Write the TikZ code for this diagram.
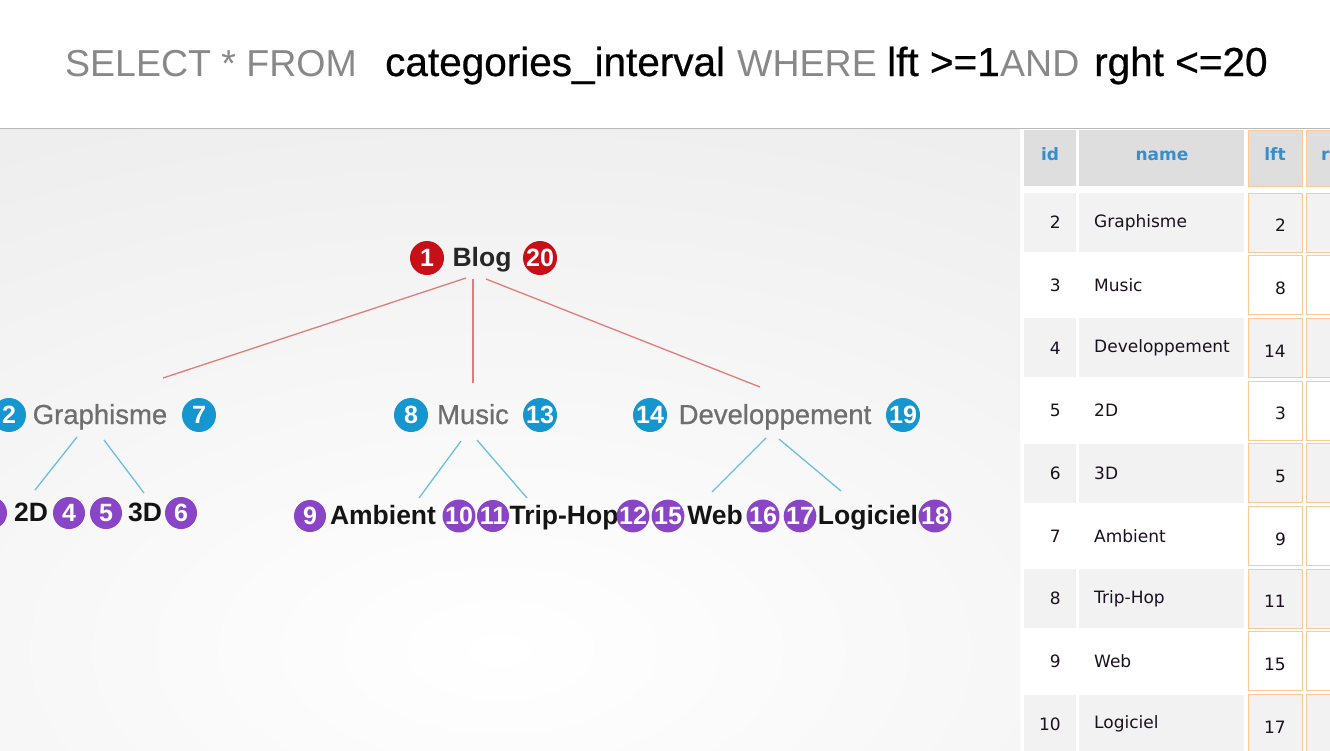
\documentclass[tikz,border=0pt]{standalone}
\usepackage{fontspec}
\setmainfont{Liberation Sans}
\newfontfamily\tblfont{DejaVu Sans}
\newfontfamily\semifont[FakeBold=0.6]{Liberation Sans}
\definecolor{cred}{HTML}{C70F17}
\definecolor{cblue}{HTML}{1596CE}
\definecolor{cpurp}{HTML}{8A45C6}
\definecolor{lred}{HTML}{E07C7C}
\definecolor{lblue}{HTML}{6BC0DE}
\definecolor{tgrey}{HTML}{6E6E6E}
\definecolor{hgrey}{HTML}{888888}
\definecolor{hdr}{HTML}{DEDEDE}
\definecolor{rowg}{HTML}{F2F2F2}
\definecolor{orng}{HTML}{FFC993}
\definecolor{hblue}{HTML}{3A8DC8}
\definecolor{tdark}{HTML}{1A1020}
\tikzset{
  num/.style={circle, minimum size=34pt, inner sep=0pt, text=white, font=\fontsize{25}{25}\selectfont\bfseries},
  rnum/.style={num, fill=cred},
  bnum/.style={num, fill=cblue},
  pnum/.style={num, fill=cpurp, minimum size=32pt},
  lbl1/.style={anchor=base, inner sep=0pt, font=\fontsize{26.5}{26.5}\selectfont\bfseries, text=black!85},
  lbl2/.style={anchor=base, inner sep=0pt, font=\semifont\fontsize{27.5}{27.5}\selectfont, text=tgrey},
  lbl3/.style={anchor=base, inner sep=0pt, font=\fontsize{26.5}{26.5}\selectfont\bfseries, text=black!92},
  ttlg/.style={anchor=base west, inner sep=0pt, font=\fontsize{37.5}{37.5}\selectfont, text=hgrey},
  ttlb/.style={anchor=base west, inner sep=0pt, font=\semifont\fontsize{40.5}{40.5}\selectfont, text=black},
  redline/.style={draw=lred, line width=1.3pt},
  blueline/.style={draw=lblue, line width=1.3pt},
  hdrtxt/.style={inner sep=0pt, anchor=base, text=hblue, font=\tblfont\fontsize{17}{17}\selectfont\bfseries},
  celltxt/.style={inner sep=0pt, text=tdark, font=\tblfont\fontsize{17}{17}\selectfont},
  lftcell/.style={draw=orng, line width=1pt},
}
\begin{document}
\begin{tikzpicture}[x=1pt,y=-1pt]
\useasboundingbox (0,0) rectangle (1330,750);
% backgrounds
\fill[white] (0,0) rectangle (1330,750);
\begin{scope}
  \clip (0,129) rectangle (1020,750);
  \shade[inner color=white, outer color=black!10] (-1100,-200) rectangle (2100,1500);
\end{scope}
\draw[black!28, line width=1pt] (0,128.5) -- (1330,128.5);

% title
\node[ttlg] (t1) at (65,76) {SELECT * FROM};
\node[ttlb] (t2) at (385,76) {categories\_interval};
\node[ttlg] (t3) at (737,76) {WHERE};
\node[ttlb] (t4) at (887,76) {lft >=1};
\node[ttlg] (t5) at (1000,76) {AND};
\node[ttlb] (t6) at (1094,76) {rght <=20};

% level 1
\node[rnum] (n1) at (427,258) {1};
\node[lbl1] (blog) at (482,266) {Blog};
\node[rnum] (n20) at (540,258) {20};

% level 2
\node[bnum] (n2) at (9,415) {2};
\node[lbl2] (graph) at (100,424) {Graphisme};
\node[bnum] (n7) at (199,415) {7};
\node[bnum] (n8) at (411,415) {8};
\node[lbl2] (music) at (473,424) {Music};
\node[bnum] (n13) at (540,415) {13};
\node[bnum] (n14) at (650,415) {14};
\node[lbl2] (dev) at (775,424) {Developpement};
\node[bnum] (n19) at (903,415) {19};

% level 3
\node[pnum] (n3) at (-9,513) {3};
\node[lbl3] (l2d) at (31,521) {2D};
\node[pnum] (n4) at (69,513) {4};
\node[pnum] (n5) at (106,513) {5};
\node[lbl3] (l3d) at (145,521) {3D};
\node[pnum] (n6) at (181,513) {6};
\node[pnum] (n9) at (310,516) {9};
\node[lbl3] (amb) at (383,524) {Ambient};
\node[pnum] (n10) at (459,516) {10};
\node[pnum] (n11) at (493,516) {11};
\node[lbl3] (trip) at (564,524) {Trip-Hop};
\node[pnum] (n12) at (633,516) {12};
\node[pnum] (n15) at (668,516) {15};
\node[lbl3] (web) at (715,524) {Web};
\node[pnum] (n16) at (763,516) {16};
\node[pnum] (n17) at (800,516) {17};
\node[lbl3] (logi) at (868,524) {Logiciel};
\node[pnum] (n18) at (935,516) {18};

% connector end points
\coordinate (bA) at (466,278);
\coordinate (bB) at (473,279);
\coordinate (bC) at (486,279);
\coordinate (gTop) at (163,378);
\coordinate (mTop) at (473,383);
\coordinate (dTop) at (760,387);
\draw[redline] (bA) -- (gTop);
\draw[redline] (bB) -- (mTop);
\draw[redline] (bC) -- (dTop);

\coordinate (gL) at (77,437);  \coordinate (g2d) at (35,490);
\coordinate (gR) at (104,440); \coordinate (g3d) at (144,493);
\coordinate (mL) at (461,441); \coordinate (mAmb) at (419,498);
\coordinate (mR) at (477,440); \coordinate (mTrip) at (527,498);
\coordinate (dL) at (766,438); \coordinate (dWeb) at (712,492);
\coordinate (dR) at (779,439); \coordinate (dLog) at (841,491);
\draw[blueline] (gL) -- (g2d);
\draw[blueline] (gR) -- (g3d);
\draw[blueline] (mL) -- (mAmb);
\draw[blueline] (mR) -- (mTrip);
\draw[blueline] (dL) -- (dWeb);
\draw[blueline] (dR) -- (dLog);

% table header
\fill[hdr] (1024,130) rectangle (1076,186);
\fill[hdr] (1079,130) rectangle (1244,186);
\filldraw[hdr, lftcell] (1248,130) rectangle (1302,186);
\filldraw[hdr, lftcell] (1306,130) rectangle (1372,186);
\node[hdrtxt] (hid) at (1050,160) {id};
\node[hdrtxt] (hname) at (1162,160) {name};
\node[hdrtxt] (hlft) at (1275,160) {lft};
\node[hdrtxt, anchor=base west] (hrght) at (1321,160) {rght};

% table rows
\foreach \i/\id/\nm/\lf in {1/2/Graphisme/2, 2/3/Music/8, 3/4/Developpement/14, 4/5/2D/3, 5/6/3D/5, 6/7/Ambient/9, 7/8/Trip-Hop/11, 8/9/Web/15, 9/10/Logiciel/17}{
  \pgfmathsetmacro{\rtop}{193+62.7*(\i-1)}
  \pgfmathsetmacro{\rbot}{\rtop+59}
  \pgfmathsetmacro{\rmid}{\rtop+29.5}
  \pgfmathtruncatemacro{\odd}{mod(\i,2)}
  \ifnum\odd=1 \def\rc{rowg}\else\def\rc{white}\fi
  \fill[\rc] (1024,\rtop) rectangle (1076,\rbot);
  \fill[\rc] (1079,\rtop) rectangle (1244,\rbot);
  \filldraw[fill=\rc, lftcell] (1248,\rtop) rectangle (1302,\rbot);
  \filldraw[fill=\rc, lftcell] (1306,\rtop) rectangle (1372,\rbot);
  \node[celltxt, anchor=east] (id\i) at (1061,\rmid) {\id};
  \node[celltxt, anchor=west] (nm\i) at (1094,\rmid) {\nm};
  \node[celltxt, anchor=east] (lf\i) at (1286,\rmid+3) {\lf};
}
\end{tikzpicture}
\end{document}
